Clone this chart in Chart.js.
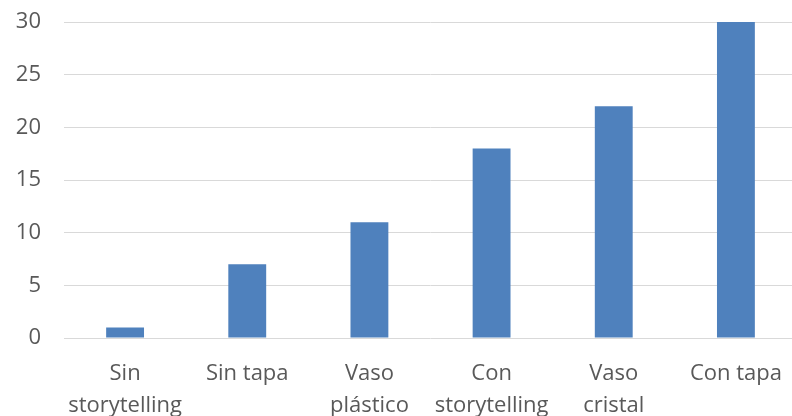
<!DOCTYPE html>
<html>
<head>
<meta charset="utf-8">
<script src="https://cdn.jsdelivr.net/npm/chart.js@4/dist/chart.umd.min.js"></script>
<style>
  html, body { margin: 0; padding: 0; background: #fff; overflow: hidden; }
  #wrap { position: absolute; left: 0; top: 0; width: 792px; height: 416px; overflow: hidden; }
  canvas { position: absolute; left: 0; top: 0; }
</style>
</head>
<body>
<div id="wrap"><canvas id="chart" width="800" height="424"></canvas></div>
<script>
// ===== data =====
const categories = [
  ["Sin", "storytelling"],
  "Sin tapa",
  ["Vaso", "plástico"],
  ["Con", "storytelling"],
  ["Vaso", "cristal"],
  "Con tapa"
];
const values = [1, 7, 11, 18, 22, 30];
const yTicks = [0, 5, 10, 15, 20, 25, 30];

const textColor = "#595959";
const gridColor = "#d9d9d9";
const font = { family: "'Open Sans', sans-serif", size: 22, lineHeight: 1.45 };

new Chart(document.getElementById("chart"), {
  type: "bar",
  data: {
    labels: categories,
    datasets: [{
      data: values,
      backgroundColor: "#4f81bd",
      categoryPercentage: 1,
      barPercentage: 0.31
    }]
  },
  options: {
    responsive: false,
    animation: false,
    layout: { padding: { top: 22, right: 3, left: 0, bottom: 0 } },
    plugins: { legend: { display: false }, tooltip: { enabled: false } },
    scales: {
      x: {
        grid: { display: false, drawTicks: false },
        border: { display: false },
        ticks: { color: textColor, font: font, padding: 20, maxRotation: 0, autoSkip: false },
        afterFit: s => { s.height = 86; s.paddingLeft = 0; s.paddingRight = 0; }
      },
      y: {
        min: 0,
        max: 30,
        afterBuildTicks: s => { s.ticks = yTicks.map(v => ({ value: v })); },
        grid: { color: gridColor, lineWidth: 1, drawTicks: false },
        border: { display: false },
        ticks: { color: textColor, font: font, padding: 23 },
        afterFit: s => { s.width = 64; s.paddingTop = 0; s.paddingBottom = 0; }
      }
    }
  }
});
</script>
</body>
</html>
